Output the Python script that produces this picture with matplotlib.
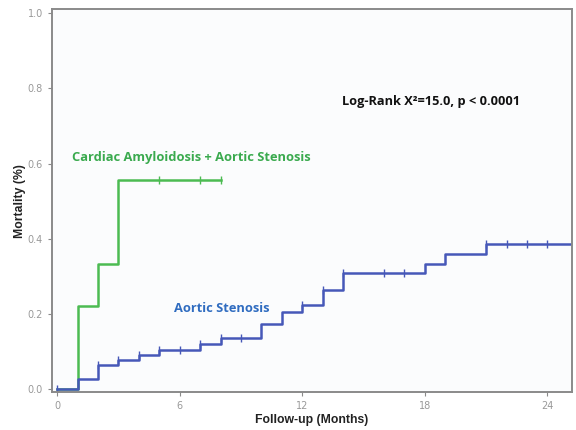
import matplotlib
matplotlib.use("Agg")
import matplotlib.pyplot as plt

# Cardiac Amyloidosis + Aortic Stenosis (step times and cumulative mortality)
ca_times = [0, 1, 2, 3, 8]
ca_mort = [0.0, 0.222, 0.333, 0.556, 0.556]
ca_censor_t = [5, 7, 8]

# Aortic Stenosis
as_times = [0, 1, 2, 3, 4, 5, 7, 8, 10, 11, 12, 13, 14, 18, 19, 21, 25.3]
as_mort = [0.0, 0.027, 0.064, 0.077, 0.091, 0.104, 0.120, 0.136, 0.173,
           0.205, 0.224, 0.264, 0.309, 0.333, 0.360, 0.387, 0.387]
as_censor_t = [0, 2, 3, 4, 5, 6, 7, 8, 9, 12, 13, 14, 16, 17, 21, 22, 23, 24]

x_ticks = [0, 6, 12, 18, 24]
y_ticks = [0.0, 0.2, 0.4, 0.6, 0.8, 1.0]

green = "#4cbb52"
blue = "#4658b8"

fig = plt.figure(figsize=(5.76, 4.30), dpi=100)
ax = fig.add_axes([0.0903, 0.0884, 0.9027, 0.8896])
ax.set_facecolor("#fbfcfd")

def level_at(times, vals, t):
    v = vals[0]
    for tt, vv in zip(times, vals):
        if tt <= t:
            v = vv
    return v

ax.step(ca_times, ca_mort, where="post", color=green, lw=1.8)
ax.plot(ca_censor_t, [level_at(ca_times, ca_mort, t) for t in ca_censor_t],
        ls="none", marker="|", ms=6, mew=1.0, color=green)

ax.step(as_times, as_mort, where="post", color=blue, lw=1.8)
ax.plot(as_censor_t, [level_at(as_times, as_mort, t) for t in as_censor_t],
        ls="none", marker="|", ms=6, mew=1.0, color=blue)

ax.set_xlim(-0.25, 25.2)
ax.set_ylim(-0.008, 1.01)
ax.set_xticks(x_ticks)
ax.set_xticklabels([str(t) for t in x_ticks])
ax.set_yticks(y_ticks)
ax.set_yticklabels([f"{t:.1f}" for t in y_ticks])

for s in ax.spines.values():
    s.set_color("#8a8a8a")
    s.set_linewidth(1.4)
ax.tick_params(colors="#8a8a8a", labelcolor="#999999", labelsize=7,
               length=3, width=0.8)

ax.set_xlabel("Follow-up (Months)", fontsize=8.8, fontweight="bold",
              family="Liberation Sans", color="#222222", labelpad=2)
ax.set_ylabel("Mortality (%)", fontsize=8.8, fontweight="bold",
              family="Liberation Sans", color="#222222", labelpad=1)

ax.text(18.3, 0.765, "Log-Rank X²=15.0, p < 0.0001", ha="center", va="center",
        fontsize=9.2, fontweight="bold", family="Open Sans", color="#111111")
ax.text(0.72, 0.616, "Cardiac Amyloidosis + Aortic Stenosis", ha="left",
        va="center", fontsize=9.3, fontweight="bold", family="Open Sans",
        color="#3aaa4e")
ax.text(5.7, 0.213, "Aortic Stenosis", ha="left", va="center",
        fontsize=9.3, fontweight="bold", family="Open Sans", color="#2f6cc0")

fig.savefig("out.png", dpi=100, facecolor="white")
